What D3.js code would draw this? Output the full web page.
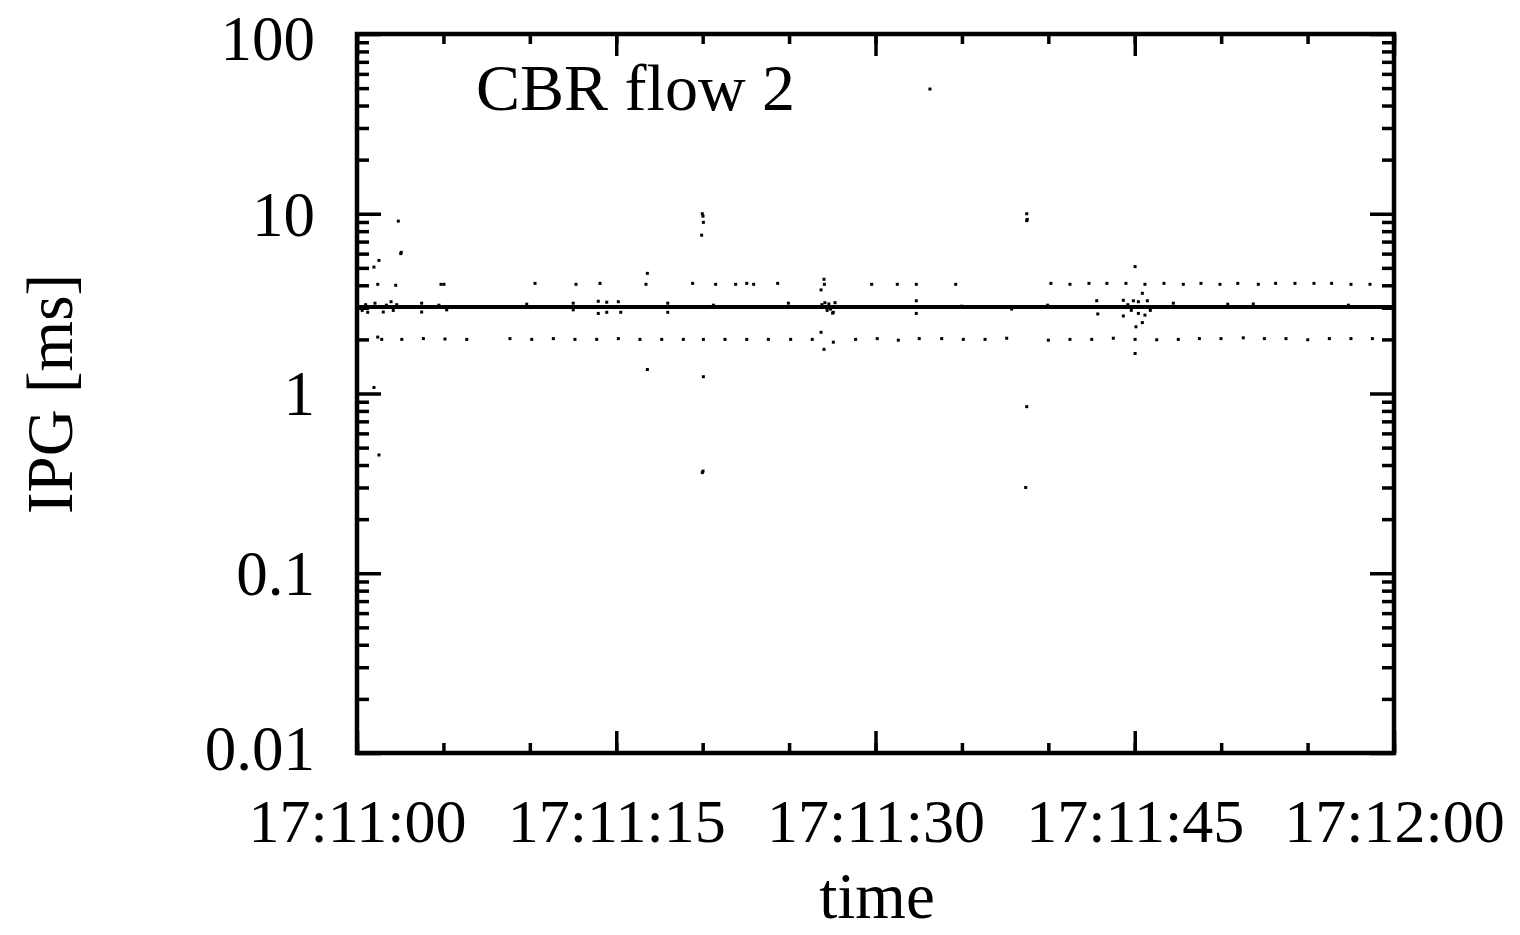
<!DOCTYPE html>
<html>
<head>
<meta charset="utf-8">
<script src="https://cdn.jsdelivr.net/npm/d3@7"></script>
<style>
  body { margin: 0; background: #fff; }
  svg { display: block; }
  text { font-family: "Liberation Serif", "DejaVu Serif", serif; fill: #000; }
</style>
</head>
<body>
<svg id="chart" width="1520" height="935"></svg>
<script>
// seconds after 17:11:00, IPG in ms
var mainLine = [[0.1, 3.03], [59.95, 3.03]];

var upperRowT = [1.20, 2.24, 4.86, 5.03, 10.30, 12.67, 14.06, 16.72, 19.42, 20.75, 21.91, 22.55,
  22.95, 24.34, 27.04, 29.78, 31.26, 32.36, 34.64, 40.15, 41.25, 42.35, 43.39, 44.49, 45.59,
  46.69, 47.81, 48.83, 49.93, 50.96, 52.15, 53.15, 54.27, 55.37, 56.39, 57.51, 58.61];
var upperRowV = [4.05, 4.0, 4.05, 4.05, 4.1, 4.05, 4.1, 4.05, 4.1, 4.05, 4.05, 4.1,
  4.05, 4.1, 4.05, 4.05, 4.05, 4.05, 4.05, 4.1, 4.05, 4.1, 4.1, 4.1, 4.05,
  4.1, 4.05, 4.1, 4.05, 4.1, 4.05, 4.1, 4.1, 4.1, 4.1, 4.05, 4.05];

var lowerRowT = [1.20, 1.43, 2.59, 3.84, 5.09, 6.35, 8.85, 10.11, 11.36, 12.61, 13.87, 15.12,
  16.37, 17.63, 18.88, 20.04, 21.29, 22.55, 23.80, 25.09, 26.34, 28.85, 30.10, 31.32, 32.53,
  33.83, 35.08, 36.34, 37.59, 40.00, 41.25, 42.51, 43.76, 45.02, 46.27, 47.52, 48.74, 49.99,
  51.28, 52.50, 53.75, 55.01, 56.26, 57.51, 58.75];
var lowerRowV = [2.06, 2.0, 2.0, 2.02, 2.01, 2.0, 2.02, 2.0, 2.02, 2.0, 2.0, 2.02,
  2.0, 2.0, 2.0, 2.0, 2.0, 2.0, 2.0, 2.0, 2.0, 2.0, 2.02, 1.98, 2.02,
  2.02, 2.0, 2.0, 2.03, 1.98, 2.0, 2.0, 2.03, 2.0, 1.99, 2.0, 2.02, 2.02,
  2.04, 2.02, 2.02, 1.99, 2.02, 2.02, 2.02];

var outlierT = [2.39, 2.53, 2.56, 1.27, 0.98, 0.98, 1.27, 19.98, 20.02, 20.04, 19.94, 16.80, 16.80,
  20.04, 19.98, 20.02, 27.02, 26.85, 26.85, 27.02, 27.56, 33.15, 38.75, 38.75, 38.78, 38.75,
  38.69, 45.02, 45.02, 45.07, 45.44, 45.44];
var outlierV = [9.1, 6.0, 6.1, 5.5, 5.05, 1.08, 0.455, 10.0, 9.7, 8.96, 7.6, 4.66, 1.36,
  1.24, 0.363, 0.37, 4.32, 3.77, 2.19, 1.76, 1.93, 49.4, 10.0, 9.15, 9.3, 0.845,
  0.30, 5.08, 1.67, 2.35, 2.48, 3.61];

var jitterT = [0.30, 0.50, 0.62, 1.04, 1.52, 1.70, 1.97, 2.10, 2.30, 3.74, 3.74, 4.74, 5.19, 9.82,
  12.51, 12.51, 13.96, 13.96, 14.45, 14.45, 15.12, 15.26, 17.98, 17.98, 20.62, 24.96, 26.90,
  27.07, 27.20, 27.30, 27.40, 27.52, 27.56, 27.66, 32.36, 32.36, 34.99, 37.88, 39.96, 42.80,
  42.86, 44.34, 44.34, 44.60, 44.80, 44.92, 45.21, 45.21, 45.30, 45.59, 45.73, 45.90, 47.23,
  50.38, 51.86, 57.36];
var jitterV = [2.9, 3.12, 2.83, 3.18, 2.84, 3.1, 3.24, 2.9, 3.12, 3.18, 2.84, 3.1, 2.92, 3.14,
  3.18, 2.92, 3.26, 2.79, 3.22, 2.83, 3.24, 2.83, 3.18, 2.83, 3.1, 3.18, 3.12,
  3.2, 2.9, 3.15, 2.95, 2.8, 2.83, 3.2, 3.28, 2.79, 3.06, 2.95, 3.1, 3.28,
  2.77, 3.3, 2.7, 3.12, 2.9, 3.28, 3.24, 2.79, 3.05, 2.73, 3.28, 2.9, 3.18,
  3.14, 3.15, 3.1];

var yMajorTicks = [0.01, 0.1, 1, 10, 100];
var xStart = new Date(2000, 0, 1, 17, 11, 0);
var xEnd = new Date(2000, 0, 1, 17, 12, 0);

var margin = {left: 357, top: 34};
var width = 1037, height = 719;

var svg = d3.select('#chart');
var g = svg.append('g').attr('transform', 'translate(' + margin.left + ',' + margin.top + ')');

var x = d3.scaleTime().domain([xStart, xEnd]).range([0, width]);
var y = d3.scaleLog().domain([0.01, 100]).range([height, 0]);

function toDate(s) { return new Date(xStart.getTime() + s * 1000); }

var yMinorTicks = [];
yMajorTicks.slice(0, -1).forEach(function (d) {
    for (var k = 2; k <= 9; k++) yMinorTicks.push(d * k);
});

function styleAxis(sel) {
    sel.select('.domain').remove();
    sel.selectAll('.tick line').attr('stroke', '#000').attr('stroke-width', 3.5);
    sel.selectAll('.tick text').style('font-size', '63px').style('font-family', '"Liberation Serif", serif');
}

// y axes, left and mirrored right
g.append('g')
    .call(d3.axisLeft(y).tickValues(yMinorTicks).tickSizeInner(-12).tickSizeOuter(0).tickFormat(''))
    .call(styleAxis);
g.append('g')
    .call(d3.axisLeft(y).tickValues(yMajorTicks).tickSizeInner(-24).tickSizeOuter(0).tickPadding(42)
        .tickFormat(d3.format('~g')))
    .call(styleAxis)
    .call(function (sel) {
        // top label kept inside the picture, bottom one clear of the time labels
        sel.selectAll('.tick text').attr('dy', function (d) {
            return d === 100 ? '0.4em' : (d === 0.01 ? '0.26em' : '0.34em');
        });
    });
g.append('g').attr('transform', 'translate(' + width + ',0)')
    .call(d3.axisRight(y).tickValues(yMinorTicks).tickSizeInner(-12).tickSizeOuter(0).tickFormat(''))
    .call(styleAxis);
g.append('g').attr('transform', 'translate(' + width + ',0)')
    .call(d3.axisRight(y).tickValues(yMajorTicks).tickSizeInner(-24).tickSizeOuter(0).tickFormat(''))
    .call(styleAxis);

// x axes, bottom and mirrored top
g.append('g').attr('transform', 'translate(0,' + height + ')')
    .call(d3.axisBottom(x).ticks(d3.timeSecond.every(5)).tickSizeInner(-10).tickSizeOuter(0).tickFormat(''))
    .call(styleAxis);
g.append('g').attr('transform', 'translate(0,' + height + ')')
    .call(d3.axisBottom(x).ticks(d3.timeSecond.every(15)).tickSizeInner(-22).tickSizeOuter(0).tickPadding(45)
        .tickFormat(d3.timeFormat('%H:%M:%S')))
    .call(styleAxis)
    .call(function (sel) { sel.selectAll('.tick text').style('font-size', '62px'); });
g.append('g')
    .call(d3.axisTop(x).ticks(d3.timeSecond.every(5)).tickSizeInner(-10).tickSizeOuter(0).tickFormat(''))
    .call(styleAxis);
g.append('g')
    .call(d3.axisTop(x).ticks(d3.timeSecond.every(15)).tickSizeInner(-22).tickSizeOuter(0).tickFormat(''))
    .call(styleAxis);

// the 3 ms line
var line = d3.line()
    .x(function (d) { return x(toDate(d[0])); })
    .y(function (d) { return y(d[1]); });
g.append('path')
    .datum(mainLine)
    .attr('d', line)
    .attr('fill', 'none')
    .attr('stroke', '#000')
    .attr('stroke-width', 4);

function addDots(ts, vs, cls) {
    var pts = ts.map(function (t, i) { return {t: t, v: vs[i]}; });
    g.append('g').attr('class', cls)
        .selectAll('rect')
        .data(pts)
        .enter()
        .append('rect')
        .attr('x', function (d) { return x(toDate(d.t)) - 1.5; })
        .attr('y', function (d) { return y(d.v) - 1.5; })
        .attr('width', 3)
        .attr('height', 3)
        .attr('fill', '#000');
}
addDots(upperRowT, upperRowV, 'upper');
addDots(lowerRowT, lowerRowV, 'lower');
addDots(jitterT, jitterV, 'jitter');
addDots(outlierT, outlierV, 'outliers');

// frame
g.append('rect')
    .attr('x', 0).attr('y', 0)
    .attr('width', width).attr('height', height)
    .attr('fill', 'none')
    .attr('stroke', '#000')
    .attr('stroke-width', 4.5);

// labels
g.append('text')
    .attr('x', 119).attr('y', 76)
    .style('font-size', '66px')
    .text('CBR flow 2');

svg.append('text')
    .attr('x', 877).attr('y', 918)
    .attr('text-anchor', 'middle')
    .style('font-size', '65px')
    .text('time');

svg.append('text')
    .attr('transform', 'translate(72,394) rotate(-90)')
    .attr('text-anchor', 'middle')
    .style('font-size', '65px')
    .text('IPG [ms]');
</script>
</body>
</html>
